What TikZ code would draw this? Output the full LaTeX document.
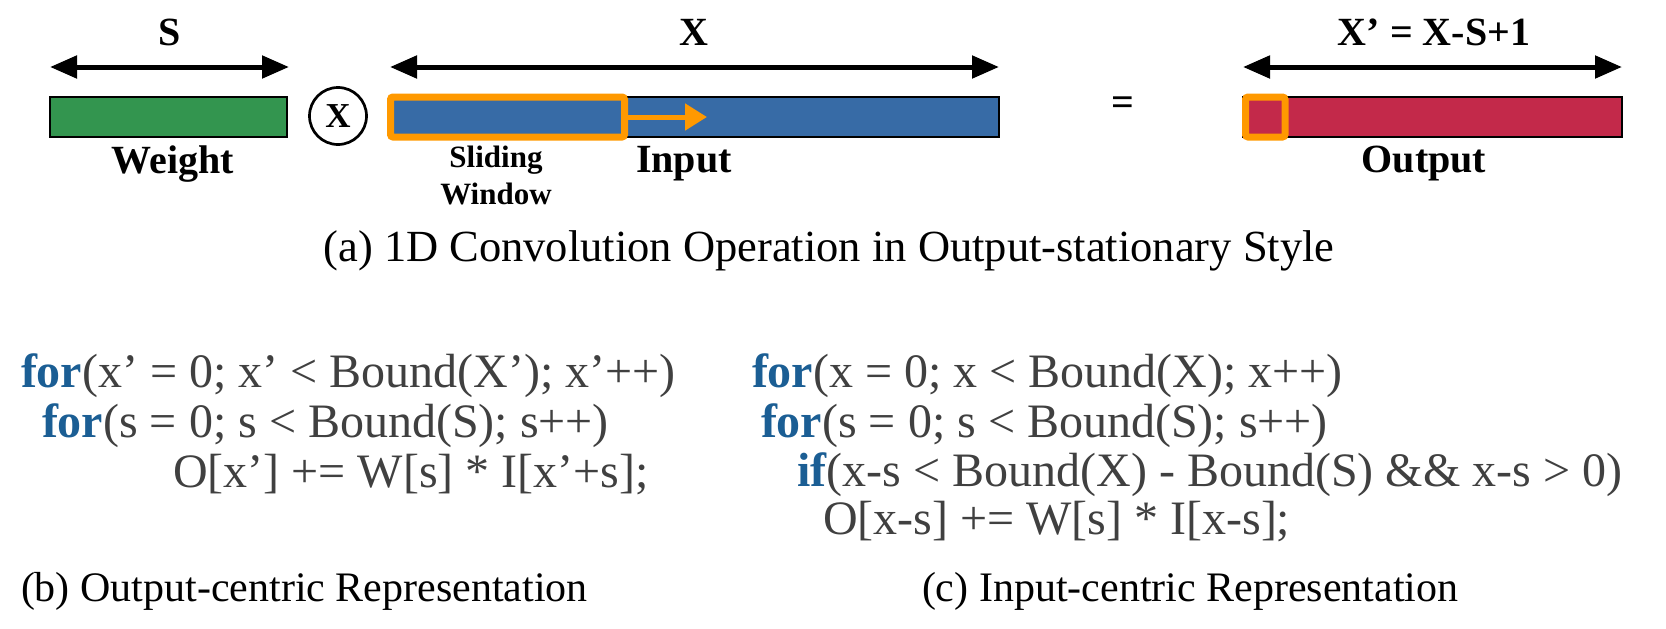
\documentclass[tikz,border=0pt]{standalone}
\usepackage{fontspec}
\setmainfont{Liberation Serif}
\usetikzlibrary{arrows.meta}
\definecolor{kw}{HTML}{1B5E94}
\definecolor{codegray}{HTML}{404040}
\definecolor{wgreen}{HTML}{33954F}
\definecolor{iblue}{HTML}{376BA6}
\definecolor{ored}{HTML}{C3294A}
\definecolor{orng}{HTML}{FF9900}
\newcommand{\kwd}[1]{\textcolor{kw}{\textbf{#1}}}
\begin{document}
\begin{tikzpicture}[x=1pt,y=-1pt, every node/.style={outer sep=0pt},
  bar/.style={draw=black, line width=1.5pt, minimum height=40pt, inner sep=0pt, anchor=north west},
  win/.style={draw=orng, line width=7pt, rounded corners=2.5pt, inner sep=0pt, anchor=north west, minimum height=40pt},
  dimarrow/.style={line width=5pt, {Triangle[length=27pt,width=22pt]}-{Triangle[length=27pt,width=22pt]}},
  slide/.style={draw=orng, line width=5pt, -{Triangle[length=22pt,width=26pt]}},
  lbl/.style={inner sep=0pt, font=\fontsize{40}{44}\selectfont\bfseries},
  small/.style={inner sep=0pt, align=center, font=\fontsize{31}{37}\selectfont\bfseries},
  code/.style={inner sep=0pt, anchor=west, text=codegray, font=\fontsize{48}{50}\selectfont},
  captext/.style={inner sep=0pt, font=\fontsize{42}{44}\selectfont}]
\useasboundingbox (0,0) rectangle (1666,629);
% bars
\node[bar, fill=wgreen, minimum width=237pt] (weight) at (50,97) {};
\node[bar, fill=iblue, minimum width=609pt] (input) at (390,97) {};
\node[bar, fill=ored, minimum width=379pt] (output) at (1243,97) {};
\node[win, fill=iblue, minimum width=234pt] (window) at (390.5,97) {};
\node[win, fill=ored, minimum width=39.5pt] (owin) at (1245.5,97) {};
% operator
\node[draw, circle, line width=2.7pt, minimum size=57pt, inner sep=0pt, font=\fontsize{35}{37}\selectfont\bfseries] (times) at (338,116) {X};
\node[lbl] (eq) at (1123,106) {=};
% dimension arrows
\coordinate (sl) at (50,67); \coordinate (sr) at (289,67);
\coordinate (xl) at (390,67); \coordinate (xr) at (999,67);
\coordinate (ol) at (1243,67); \coordinate (or) at (1622,67);
\draw[dimarrow] (sl) -- (sr);
\draw[dimarrow] (xl) -- (xr);
\draw[dimarrow] (ol) -- (or);
\node[lbl] (slab) at (170,32) {S};
\node[lbl] (xlab) at (694,32) {X};
\node[lbl] (olab) at (1434,32) {X’ = X-S+1};
% sliding arrow
\coordinate (slend) at (707,117);
\draw[slide] (window.east) -- (slend);
% labels
\node[lbl] (wlab) at (173,164) {Weight};
\node[small] (swlab) at (496,175) {Sliding\\Window};
\node[lbl] (ilab) at (684,164) {Input};
\node[lbl] (outlab) at (1424,164) {Output};
\node[captext, font=\fontsize{44.5}{46}\selectfont] (capa) at (829,251) {(a) 1D Convolution Operation in Output-stationary Style};
% code b
\node[code] (b1) at (21,376) {\kwd{for}(x’ = 0; x’ < Bound(X’); x’++)};
\node[code] (b2) at (42,426) {\kwd{for}(s = 0; s < Bound(S); s++)};
\node[code] (b3) at (173,475) {O[x’] += W[s] * I[x’+s];};
% code c
\node[code] (c1) at (752,376) {\kwd{for}(x = 0; x < Bound(X); x++)};
\node[code] (c2) at (761,426) {\kwd{for}(s = 0; s < Bound(S); s++)};
\node[code] (c3) at (797,475) {\kwd{if}(x-s < Bound(X) - Bound(S) \&\& x-s > 0)};
\node[code] (c4) at (823,522) {O[x-s] += W[s] * I[x-s];};
\node[captext, anchor=west] (capb) at (21,591) {(b) Output-centric Representation};
\node[captext, anchor=west] (capc) at (922,591) {(c) Input-centric Representation};
\end{tikzpicture}
\end{document}
